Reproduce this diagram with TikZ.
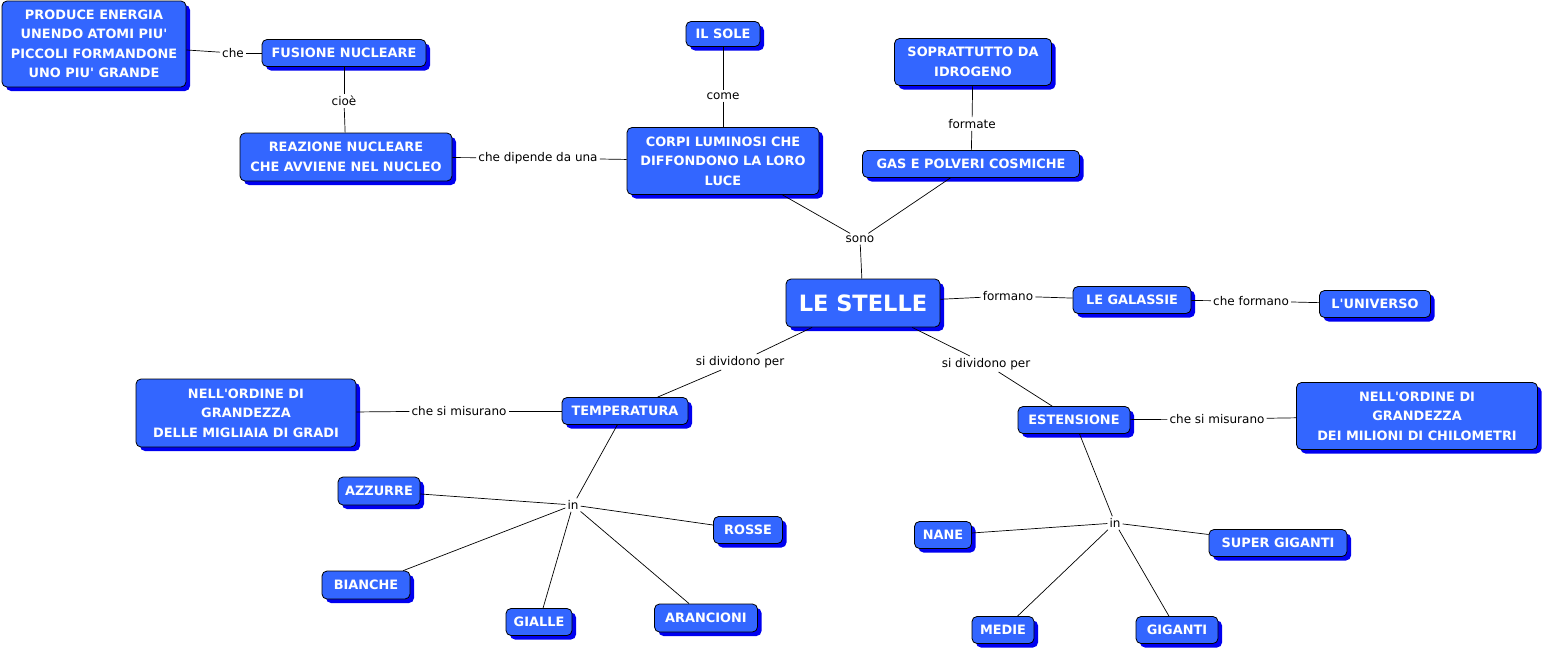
\documentclass[tikz,border=0pt]{standalone}
\usepackage{fontspec}
\usetikzlibrary{shadows}
\newfontfamily\boxfont{DejaVu Sans}
\newfontfamily\lblfont{DejaVu Sans}
\definecolor{boxblue}{RGB}{51,102,255}
\definecolor{shadowblue}{RGB}{0,0,240}
\tikzset{
  cbox/.style={draw=black, line width=0.8pt, fill=boxblue, rounded corners=5pt,
    text=white, align=center, inner sep=1pt,
    font=\boxfont\bfseries\fontsize{12.9}{19.5}\selectfont,
    drop shadow={shadow xshift=4pt, shadow yshift=-4pt, fill=shadowblue, opacity=1}},
  lbl/.style={font=\lblfont\fontsize{12}{13}\selectfont, inner sep=2pt, text=black},
  conn/.style={draw=black, line width=0.7pt}
}
\begin{document}
\begin{tikzpicture}[x=1pt,y=-1pt]
\useasboundingbox (0,0) rectangle (1545,651);
% boxes
\node[cbox, minimum width=184pt, minimum height=86pt] (prod) at (94,44) {PRODUCE ENERGIA\\UNENDO ATOMI PIU'\\PICCOLI FORMANDONE\\UNO PIU' GRANDE};
\node[cbox, minimum width=164pt, minimum height=27pt] (fus) at (344,53) {FUSIONE NUCLEARE};
\node[cbox, minimum width=212pt, minimum height=48pt] (reaz) at (346,157) {REAZIONE NUCLEARE\\CHE AVVIENE NEL NUCLEO};
\node[cbox, minimum width=74pt, minimum height=25pt] (sole) at (723,34) {IL SOLE};
\node[cbox, minimum width=192pt, minimum height=67pt] (corpi) at (723,161) {CORPI LUMINOSI CHE\\DIFFONDONO LA LORO\\LUCE};
\node[cbox, minimum width=157pt, minimum height=47pt] (sopr) at (973,62) {SOPRATTUTTO DA\\IDROGENO};
\node[cbox, minimum width=217pt, minimum height=27pt] (gas) at (971,164) {GAS E POLVERI COSMICHE};
\node[cbox, minimum width=154pt, minimum height=48pt, font=\boxfont\bfseries\fontsize{22.5}{26}\selectfont] (stelle) at (863,303) {LE STELLE};
\node[cbox, minimum width=118pt, minimum height=27pt] (gal) at (1132,300) {LE GALASSIE};
\node[cbox, minimum width=111pt, minimum height=27pt] (univ) at (1375,304) {L'UNIVERSO};
\node[cbox, minimum width=126pt, minimum height=27pt] (temp) at (625,411) {TEMPERATURA};
\node[cbox, minimum width=220pt, minimum height=68pt] (ord1) at (246,413) {NELL'ORDINE DI\\GRANDEZZA\\DELLE MIGLIAIA DI GRADI};
\node[cbox, minimum width=112pt, minimum height=27pt] (est) at (1074,420) {ESTENSIONE};
\node[cbox, minimum width=241pt, minimum height=67pt] (ord2) at (1417,416) {NELL'ORDINE DI\\GRANDEZZA\\DEI MILIONI DI CHILOMETRI};
\node[cbox, minimum width=82pt, minimum height=28pt] (azz) at (379,491) {AZZURRE};
\node[cbox, minimum width=69pt, minimum height=27pt] (ros) at (748,530) {ROSSE};
\node[cbox, minimum width=88pt, minimum height=28pt] (bia) at (366,585) {BIANCHE};
\node[cbox, minimum width=66pt, minimum height=27pt] (gia) at (539,622) {GIALLE};
\node[cbox, minimum width=103pt, minimum height=28pt] (ara) at (706,618) {ARANCIONI};
\node[cbox, minimum width=57pt, minimum height=27pt] (nane) at (943,535) {NANE};
\node[cbox, minimum width=138pt, minimum height=27pt] (sup) at (1278,543) {SUPER GIGANTI};
\node[cbox, minimum width=62pt, minimum height=27pt] (med) at (1003,630) {MEDIE};
\node[cbox, minimum width=82pt, minimum height=27pt] (gig) at (1177,630) {GIGANTI};
% labels
\node[lbl] (lche) at (233,53) {che};
\node[lbl] (lcioe) at (344,101) {cioè};
\node[lbl] (ldip) at (538,158) {che dipende da una};
\node[lbl] (lcome) at (723,96) {come};
\node[lbl] (lform) at (972,124) {formate};
\node[lbl] (lsono) at (860,239) {sono};
\node[lbl] (lformano) at (1008,296) {formano};
\node[lbl] (lcf) at (1251,301) {che formano};
\node[lbl] (lsd1) at (740,362) {si dividono per};
\node[lbl] (lsd2) at (986,364) {si dividono per};
\node[lbl] (lm1) at (459,411) {che si misurano};
\node[lbl] (lm2) at (1217,419) {che si misurano};
\node[lbl] (lin1) at (573,505) {in};
\node[lbl] (lin2) at (1115,523) {in};
% connectors
\draw[conn] (prod) -- (lche); \draw[conn] (lche) -- (fus);
\draw[conn] (fus) -- (lcioe); \draw[conn] (lcioe) -- (reaz);
\draw[conn] (reaz) -- (ldip); \draw[conn] (ldip) -- (corpi);
\draw[conn] (sole) -- (lcome); \draw[conn] (lcome) -- (corpi);
\draw[conn] (sopr) -- (lform); \draw[conn] (lform) -- (gas);
\draw[conn] (corpi) -- (lsono); \draw[conn] (gas) -- (lsono); \draw[conn] (lsono) -- (stelle);
\draw[conn] (stelle) -- (lformano); \draw[conn] (lformano) -- (gal);
\draw[conn] (gal) -- (lcf); \draw[conn] (lcf) -- (univ);
\draw[conn] (stelle) -- (lsd1); \draw[conn] (lsd1) -- (temp);
\draw[conn] (stelle) -- (lsd2); \draw[conn] (lsd2) -- (est);
\draw[conn] (temp) -- (lm1); \draw[conn] (lm1) -- (ord1);
\draw[conn] (est) -- (lm2); \draw[conn] (lm2) -- (ord2);
\draw[conn] (temp) -- (lin1);
\foreach \t in {azz,ros,bia,gia,ara} \draw[conn] (lin1) -- (\t);
\draw[conn] (est) -- (lin2);
\foreach \t in {nane,sup,med,gig} \draw[conn] (lin2) -- (\t);
\end{tikzpicture}
\end{document}
